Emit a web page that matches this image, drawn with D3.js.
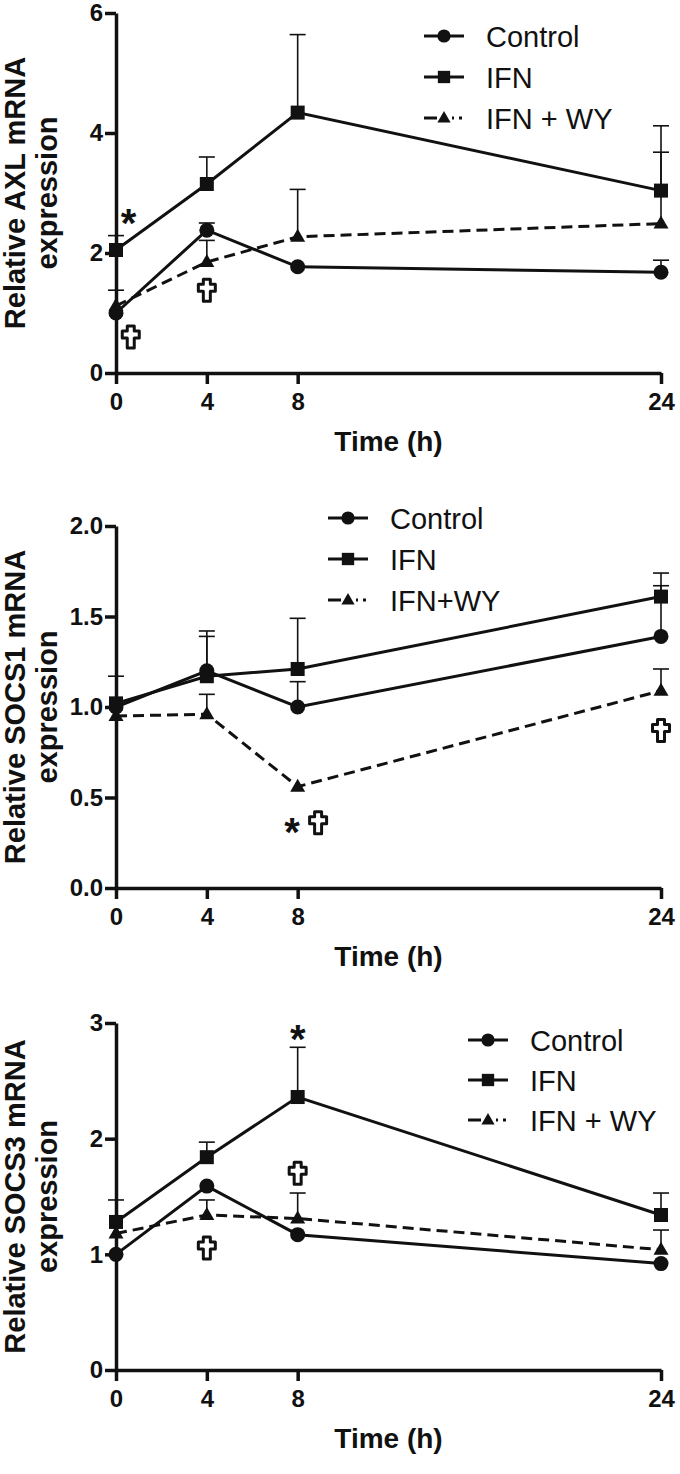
<!DOCTYPE html>
<html>
<head>
<meta charset="utf-8">
<script src="https://cdn.jsdelivr.net/npm/d3@7"></script>
<style>
  body { margin: 0; background: #fff; }
  svg { display: block; font-family: "Liberation Sans", Arial, sans-serif; }
</style>
</head>
<body>
<div id="canva"></div>
<script>
// time points (h)
const times = [0, 4, 8, 24];
const seriesNames = ["Control", "IFN", "IFN + WY"];
const seriesNames2 = ["Control", "IFN", "IFN+WY"];

// AXL
const axlControl = [1.00, 2.38, 1.77, 1.68];
const axlControlErr = [null, 0.12, null, 0.20];
const axlIfn = [2.05, 3.15, 4.34, 3.04];
const axlIfnErr = [0.24, 0.45, 1.30, 1.08];
const axlIfnWy = [1.12, 1.85, 2.27, 2.49];
const axlIfnWyErr = [0.26, 0.36, 0.79, 1.19];
const axlTicks = [0, 2, 4, 6];
const axlMarks = [
    { sym: "*", t: 0.55, v: 2.62 },
    { sym: "dagger", t: 0.65, v: 0.60 },
    { sym: "dagger", t: 4, v: 1.38 }
];

// SOCS1
const socs1Control = [1.00, 1.20, 1.00, 1.39];
const socs1ControlErr = [null, 0.19, 0.14, 0.28];
const socs1Ifn = [1.02, 1.17, 1.21, 1.61];
const socs1IfnErr = [0.15, 0.25, 0.28, 0.13];
const socs1IfnWy = [0.95, 0.96, 0.56, 1.09];
const socs1IfnWyErr = [null, 0.11, null, 0.12];
const socs1Ticks = [0, 0.5, 1.0, 1.5, 2.0];
const socs1Marks = [
    { sym: "*", t: 7.75, v: 0.35 },
    { sym: "dagger", t: 8.9, v: 0.36 },
    { sym: "dagger", t: 24, v: 0.87 }
];

// SOCS3
const socs3Control = [1.00, 1.59, 1.17, 0.92];
const socs3ControlErr = [null, null, null, null];
const socs3Ifn = [1.28, 1.84, 2.36, 1.34];
const socs3IfnErr = [0.19, 0.13, 0.43, 0.19];
const socs3IfnWy = [1.18, 1.34, 1.31, 1.04];
const socs3IfnWyErr = [null, 0.13, 0.22, 0.17];
const socs3Ticks = [0, 1, 2, 3];
const socs3Marks = [
    { sym: "*", t: 8, v: 2.92 },
    { sym: "dagger", t: 8, v: 1.70 },
    { sym: "dagger", t: 4, v: 1.055 }
];

const panels = [
    { title: ["Relative AXL mRNA", "expression"], ticks: axlTicks, fmt: d3.format("d"), names: seriesNames,
      values: [axlControl, axlIfn, axlIfnWy], errs: [axlControlErr, axlIfnErr, axlIfnWyErr], marks: axlMarks,
      top: 13, bottom: 373, legend: { x: 424, y: 36, gap: 41 } },
    { title: ["Relative SOCS1 mRNA", "expression"], ticks: socs1Ticks, fmt: d3.format(".1f"), names: seriesNames2,
      values: [socs1Control, socs1Ifn, socs1IfnWy], errs: [socs1ControlErr, socs1IfnErr, socs1IfnWyErr], marks: socs1Marks,
      top: 526, bottom: 888, legend: { x: 328, y: 518, gap: 41 } },
    { title: ["Relative SOCS3 mRNA", "expression"], ticks: socs3Ticks, fmt: d3.format("d"), names: seriesNames,
      values: [socs3Control, socs3Ifn, socs3IfnWy], errs: [socs3ControlErr, socs3IfnErr, socs3IfnWyErr], marks: socs3Marks,
      top: 1023, bottom: 1370, legend: { x: 468, y: 1040, gap: 40 } }
];

const width = 680, height = 1474;
const left = 116, right = 661;
const ink = "#111";
const dashes = [null, null, "11,6"];

const svg = d3.select("#canva").append("svg")
    .attr("width", width)
    .attr("height", height)
    .attr("viewBox", [0, 0, width, height]);

const x = d3.scaleLinear().domain([0, 24]).range([left, right]);

function marker(g, kind, cx, cy, s) {
    if (kind === 0) {
        g.append("circle").attr("cx", cx).attr("cy", cy).attr("r", 7.5 * s).attr("fill", ink);
    } else if (kind === 1) {
        g.append("rect").attr("x", cx - 7 * s).attr("y", cy - 7 * s)
            .attr("width", 14 * s).attr("height", 14 * s).attr("fill", ink);
    } else {
        g.append("path")
            .attr("d", `M${cx},${cy - 8 * s}L${cx + 7.5 * s},${cy + 5 * s}L${cx - 7.5 * s},${cy + 5 * s}Z`)
            .attr("fill", ink);
    }
}

function dagger(g, cx, cy) {
    // outlined latin cross
    const p = [[-3.5, -11], [3.5, -11], [3.5, -6], [8.5, -6], [8.5, 1], [3.5, 1], [3.5, 11],
               [-3.5, 11], [-3.5, 1], [-8.5, 1], [-8.5, -6], [-3.5, -6]];
    g.append("path")
        .attr("d", "M" + p.map(d => [cx + d[0], cy + d[1]].join(",")).join("L") + "Z")
        .attr("fill", "#fff")
        .attr("stroke", ink)
        .attr("stroke-width", 3)
        .attr("stroke-linejoin", "round");
}

panels.forEach(panel => {
    const y = d3.scaleLinear()
        .domain([0, d3.max(panel.ticks)])
        .range([panel.bottom, panel.top]);

    const g = svg.append("g");

    // axes
    const yAxis = g.append("g")
        .attr("transform", `translate(${left},0)`)
        .call(d3.axisLeft(y).tickValues(panel.ticks).tickFormat(panel.fmt).tickSize(11).tickSizeOuter(0).tickPadding(2));
    const xAxis = g.append("g")
        .attr("transform", `translate(0,${panel.bottom})`)
        .call(d3.axisBottom(x).tickValues(times).tickFormat(d3.format("d")).tickSize(11).tickSizeOuter(0).tickPadding(9));

    [yAxis, xAxis].forEach(a => {
        a.select(".domain").attr("stroke", ink).attr("stroke-width", 3.5);
        a.selectAll(".tick line").attr("stroke", ink).attr("stroke-width", 3.5);
        a.selectAll(".tick text")
            .attr("fill", ink)
            .style("font-family", "'Liberation Sans', Arial, sans-serif")
            .style("font-size", "24px")
            .style("font-weight", "bold");
    });

    // axis titles
    const cy = (panel.top + panel.bottom) / 2;
    panel.title.forEach((t, i) => {
        g.append("text")
            .attr("transform", `translate(${25 + i * 32},${cy}) rotate(-90)`)
            .attr("text-anchor", "middle")
            .attr("fill", ink)
            .style("font-size", "29px")
            .style("font-weight", "bold")
            .text(t);
    });
    g.append("text")
        .attr("x", (left + right) / 2)
        .attr("y", panel.bottom + 78)
        .attr("text-anchor", "middle")
        .attr("fill", ink)
        .style("font-size", "28px")
        .style("font-weight", "bold")
        .text("Time (h)");

    // error bars (upper only)
    panel.values.forEach((vals, k) => {
        vals.forEach((v, i) => {
            const e = panel.errs[k][i];
            if (e == null) return;
            const px = x(times[i]);
            g.append("line")
                .attr("x1", px).attr("x2", px)
                .attr("y1", y(v)).attr("y2", y(v + e))
                .attr("stroke", ink).attr("stroke-width", 1.6);
            g.append("line")
                .attr("x1", px - 8).attr("x2", px + 8)
                .attr("y1", y(v + e)).attr("y2", y(v + e))
                .attr("stroke", ink).attr("stroke-width", 1.6);
        });
    });

    // lines
    const line = d3.line().x((d, i) => x(times[i])).y(d => y(d));
    panel.values.forEach((vals, k) => {
        g.append("path")
            .datum(vals)
            .attr("d", line)
            .attr("fill", "none")
            .attr("stroke", ink)
            .attr("stroke-width", 3)
            .attr("stroke-dasharray", dashes[k]);
    });

    // markers
    panel.values.forEach((vals, k) => {
        vals.forEach((v, i) => marker(g, k, x(times[i]), y(v), 1));
    });

    // significance marks
    panel.marks.forEach(m => {
        const px = x(m.t), py = y(m.v);
        if (m.sym === "dagger") {
            dagger(g, px, py);
        } else {
            g.append("text")
                .attr("x", px).attr("y", py + 21)
                .attr("text-anchor", "middle")
                .attr("fill", ink)
                .style("font-size", "40px")
                .style("font-weight", "bold")
                .text("*");
        }
    });

    // legend
    const lg = panel.legend;
    panel.names.forEach((name, k) => {
        const ly = lg.y + k * lg.gap;
        g.append("line")
            .attr("x1", lg.x).attr("x2", lg.x + 40)
            .attr("y1", ly).attr("y2", ly)
            .attr("stroke", ink)
            .attr("stroke-width", 3)
            .attr("stroke-dasharray", k === 2 ? "13,15,2,5,3" : null);
        marker(g, k, lg.x + 20, ly, 0.88);
        g.append("text")
            .attr("x", lg.x + 62)
            .attr("y", ly + 10.5)
            .attr("fill", ink)
            .style("font-size", "29px")
            .text(name);
    });
});
</script>
</body>
</html>
